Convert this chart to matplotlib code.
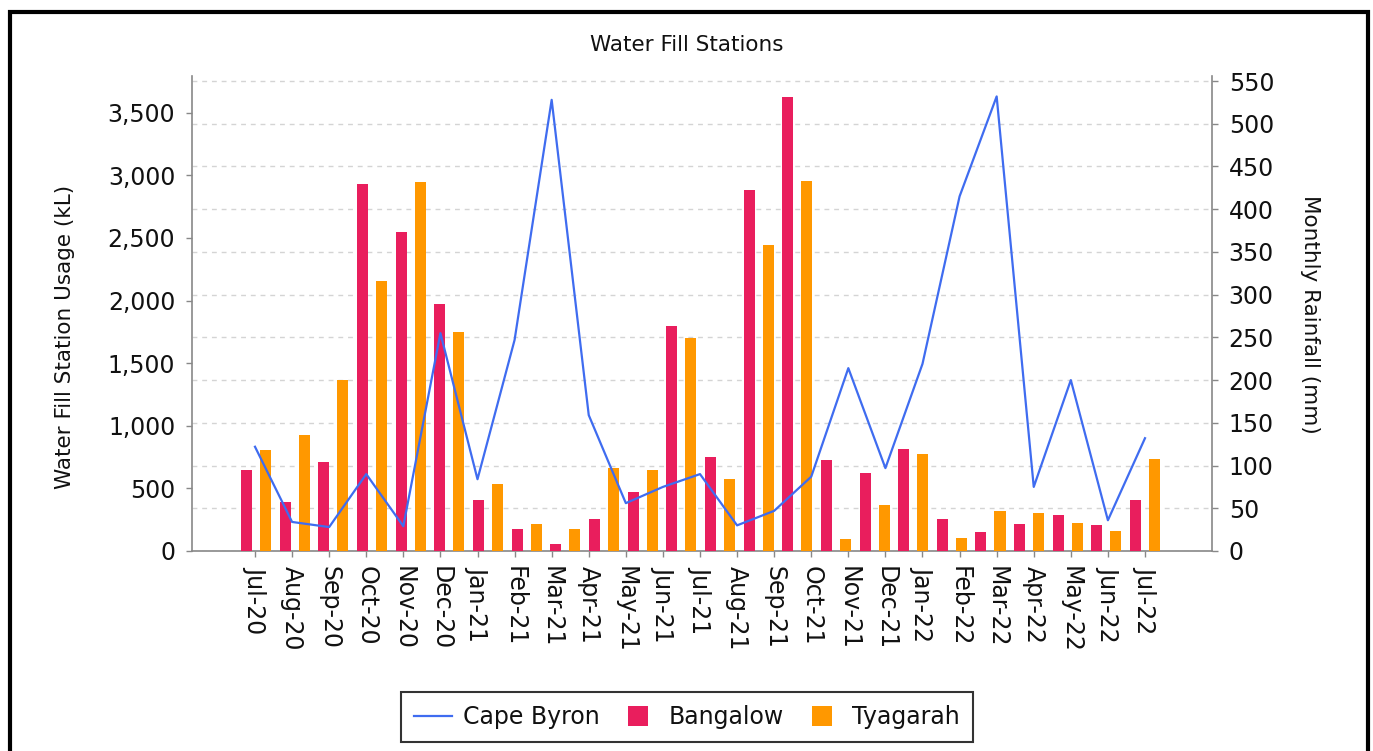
import matplotlib
matplotlib.use('Agg')
import matplotlib.pyplot as plt
from matplotlib.lines import Line2D
from matplotlib.patches import Rectangle
from matplotlib.ticker import FuncFormatter
import numpy as np

# ---------------- data ----------------
months = ['Jul-20', 'Aug-20', 'Sep-20', 'Oct-20', 'Nov-20', 'Dec-20',
          'Jan-21', 'Feb-21', 'Mar-21', 'Apr-21', 'May-21', 'Jun-21',
          'Jul-21', 'Aug-21', 'Sep-21', 'Oct-21', 'Nov-21', 'Dec-21',
          'Jan-22', 'Feb-22', 'Mar-22', 'Apr-22', 'May-22', 'Jun-22',
          'Jul-22']

# rainfall (mm) – one value per month label
cape_byron = [122, 34, 28, 90, 29, 255, 84, 247, 528, 159, 56, 75,
              90, 30, 47, 87, 214, 97, 219, 415, 532, 75, 200, 36, 132]

# water fill station usage (kL) – 24 bar groups
bangalow = [645, 392, 709, 2930, 2547, 1969, 411, 173, 59, 259, 469, 1793,
            751, 2882, 3623, 725, 623, 813, 256, 152, 219, 285, 205, 405]
tyagarah = [810, 925, 1364, 2155, 2944, 1750, 538, 219, 179, 666, 645, 1702,
            575, 2443, 2957, 99, 370, 773, 107, 320, 304, 224, 160, 733]

left_ticks = [0, 500, 1000, 1500, 2000, 2500, 3000, 3500]
right_ticks = [0, 50, 100, 150, 200, 250, 300, 350, 400, 450, 500, 550]

title = 'Water Fill Stations'
left_label = 'Water Fill Station Usage (kL)'
right_label = 'Monthly Rainfall (mm)'

# ---------------- style ----------------
PINK = '#E91E5D'
ORANGE = '#FF9800'
BLUE = '#3F6CF0'
AXC = '#888888'
TICK_FS = 17
LAB_FS = 15.5

W, H = 1373, 751
fig = plt.figure(figsize=(W / 100, H / 100), dpi=100)
fig.patch.set_facecolor('white')

rect = [192 / W, 1 - 551 / H, (1212 - 192) / W, (551 - 76) / H]

axg = fig.add_axes(rect, zorder=0)   # grid, right axis, month ticks
axb = fig.add_axes(rect, zorder=1)   # bars, left axis
axl = fig.add_axes(rect, zorder=2)   # rainfall line

n_line = len(months)
n_bar = len(bangalow)
x_line = np.arange(n_line)
x_bar = np.arange(n_bar)

line_xlim = (-1.699, 25.807)
bar_xlim = (-1.656, 24.73)
right_ylim = (0, 555.9)
left_ylim = (0, 3793)

# --- grid / right axis ---
axg.set_xlim(*line_xlim)
axg.set_ylim(*right_ylim)
axg.set_yticks(right_ticks)
axg.yaxis.tick_right()
axg.grid(axis='y', linestyle=(0, (3.5, 3.5)), color='#d4d4d4', linewidth=1.0)
axg.set_axisbelow(True)
axg.set_xticks(x_line)
axg.set_xticklabels(months, rotation=-90, ha='center', va='top',
                    fontsize=TICK_FS, color='#111111')
axg.tick_params(axis='x', length=4, width=1, color=AXC, pad=7)
axg.tick_params(axis='y', labelsize=TICK_FS, length=4, width=1, color=AXC,
                pad=8, labelcolor='#111111', right=True, left=False)
for s in ['top', 'left']:
    axg.spines[s].set_visible(False)
for s in ['right', 'bottom']:
    axg.spines[s].set_color(AXC)
    axg.spines[s].set_linewidth(1.2)

# --- bars / left axis ---
axb.patch.set_visible(False)
axb.set_xlim(*bar_xlim)
axb.set_ylim(*left_ylim)
bw = 0.285
off = 0.246
axb.bar(x_bar - off, bangalow, width=bw, color=PINK, linewidth=0)
axb.bar(x_bar + off, tyagarah, width=bw, color=ORANGE, linewidth=0)
axb.set_xticks([])
axb.set_yticks(left_ticks)
axb.yaxis.set_major_formatter(FuncFormatter(lambda v, p: f'{int(v):,}'))
axb.tick_params(axis='y', labelsize=TICK_FS, length=4, width=1, color=AXC,
                pad=8, labelcolor='#111111')
for s in ['top', 'right', 'bottom']:
    axb.spines[s].set_visible(False)
axb.spines['left'].set_color(AXC)
axb.spines['left'].set_linewidth(1.2)

# --- line ---
axl.set_xlim(*line_xlim)
axl.set_ylim(*right_ylim)
axl.plot(x_line, cape_byron, color=BLUE, linewidth=1.6)
axl.axis('off')

# --- texts ---
fig.text(687 / W, 1 - 45 / H, title, ha='center', va='center',
         fontsize=LAB_FS, color='#111111')
fig.text(65 / W, 1 - 337 / H, left_label, rotation=90, ha='center',
         va='center', fontsize=LAB_FS, color='#111111')
fig.text(1310 / W, 1 - 314 / H, right_label, rotation=-90, ha='center',
         va='center', fontsize=LAB_FS, color='#111111')

# --- legend ---
handles = [
    Line2D([], [], color=BLUE, linewidth=1.6),
    Line2D([], [], marker='s', linestyle='none', markersize=15,
           markerfacecolor=PINK, markeredgewidth=0),
    Line2D([], [], marker='s', linestyle='none', markersize=15,
           markerfacecolor=ORANGE, markeredgewidth=0),
]
labels = ['Cape Byron', 'Bangalow', 'Tyagarah']
leg = fig.legend(handles, labels, loc='center', ncol=3,
                 bbox_to_anchor=(687 / W, 1 - 717 / H),
                 fontsize=TICK_FS, frameon=True, fancybox=False,
                 handlelength=1.6, handletextpad=0.5, columnspacing=0.8,
                 borderpad=0.55, borderaxespad=0)
leg.get_frame().set_edgecolor('black')
leg.get_frame().set_linewidth(1.5)
for t in leg.get_texts():
    t.set_color('#111111')

# --- outer border ---
fig.patches.append(Rectangle((10 / W, -0.02), (1368 - 10) / W, 1 - 12 / H + 0.02,
                             transform=fig.transFigure, fill=False,
                             edgecolor='black', linewidth=3))

fig.savefig('out.png', dpi=100, facecolor='white')
